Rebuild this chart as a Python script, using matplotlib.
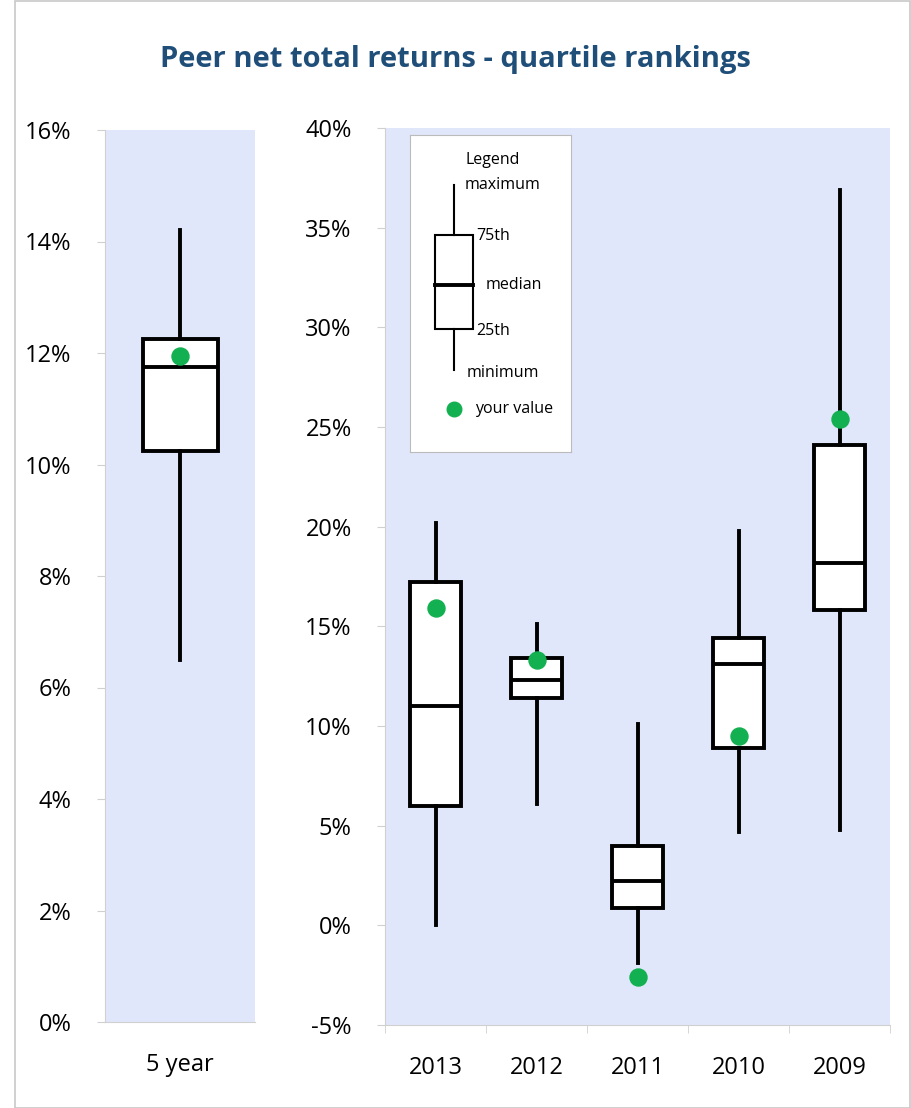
import matplotlib.pyplot as plt
from matplotlib.patches import Rectangle

plt.rcParams["font.family"] = ["Open Sans", "DejaVu Sans"]

# five-year panel
five_label = ["5 year"]
five_min, five_q1, five_med, five_q3, five_max = [6.5], [10.25], [11.75], [12.25], [14.2]
five_you = [11.95]

# annual panel
years = ["2013", "2012", "2011", "2010", "2009"]
yr_min = [0.0, 6.1, -1.9, 4.7, 4.8]
yr_q1 = [6.0, 11.4, 0.85, 8.9, 15.8]
yr_med = [11.0, 12.3, 2.2, 13.1, 18.2]
yr_q3 = [17.2, 13.4, 4.0, 14.4, 24.1]
yr_max = [20.2, 15.1, 10.1, 19.8, 36.9]
yr_you = [15.9, 13.3, -2.6, 9.5, 25.4]

W, H = 911, 1108
fig = plt.figure(figsize=(W / 100, H / 100), dpi=100)
fig.patches.append(Rectangle((15 / W, 0), 1 - 16 / W, 1 - 1 / H, transform=fig.transFigure,
                             fill=False, edgecolor="#c8c8c8", lw=1.2))

def px_axes(x0, y0, x1, y1):
    return fig.add_axes([x0 / W, 1 - y1 / H, (x1 - x0) / W, (y1 - y0) / H])

bg = "#e1e7fa"
box_style = dict(color="black", linewidth=2.8)

def draw(ax, labels, mn, q1, med, q3, mx, you):
    stats = [dict(whislo=a, q1=b, med=c, q3=d, whishi=e, label=l)
             for l, a, b, c, d, e in zip(labels, mn, q1, med, q3, mx)]
    pos = list(range(len(labels)))
    ax.bxp(stats, positions=pos, widths=0.5, showfliers=False, showcaps=False,
           patch_artist=True,
           boxprops=dict(facecolor="white", edgecolor="black", linewidth=2.8),
           medianprops=box_style, whiskerprops=box_style)
    ax.scatter(pos, you, s=150, color="#12b050", zorder=5)
    ax.set_xlim(-0.5, len(labels) - 0.5)
    ax.set_facecolor(bg)
    for s in ["top", "right"]:
        ax.spines[s].set_visible(False)
    for s in ["left", "bottom"]:
        ax.spines[s].set_color("#d0d0d0")
    ax.set_xticks(pos)
    ax.set_xticklabels(labels, fontsize=17)
    ax.tick_params(axis="x", length=0, pad=22)
    ax.tick_params(axis="y", labelsize=17, length=6, color="#d0d0d0", pad=18)
    ax.yaxis.set_major_formatter(lambda v, p: f"{v:.0f}%")

ax1 = px_axes(105, 130, 255, 1022)
draw(ax1, five_label, five_min, five_q1, five_med, five_q3, five_max, five_you)
ax1.set_ylim(0, 16)
ax1.set_yticks(range(0, 17, 2))

ax2 = px_axes(385, 128, 890, 1025)
draw(ax2, years, yr_min, yr_q1, yr_med, yr_q3, yr_max, yr_you)
ax2.set_ylim(-5, 40)
ax2.set_yticks(range(-5, 41, 5))
ax2.set_xticks([i + 0.5 for i in range(-1, 5)], minor=True)
ax2.tick_params(axis="x", which="minor", length=6, color="#d0d0d0")

fig.text(0.5, 1 - 60 / H, "Peer net total returns - quartile rankings", ha="center", va="center",
         fontsize=21, fontweight="bold", color="#1f4e79")

# legend panel
lg = px_axes(410, 135, 571, 452)
lg.set_xlim(410, 571)
lg.set_ylim(452, 135)
lg.set_xticks([])
lg.set_yticks([])
for s in lg.spines.values():
    s.set_color("#bbbbbb")
lg.plot([454, 454], [185, 235], color="black", lw=1.5)
lg.plot([454, 454], [329, 370], color="black", lw=1.5)
lg.add_patch(Rectangle((435, 235), 38, 94, facecolor="white", edgecolor="black", lw=1.5))
lg.plot([435, 473], [285, 285], color="black", lw=2.8)
lg.scatter([454], [409], s=110, color="#12b050")
for x, y, t in [(493, 160, "Legend"), (503, 185, "maximum"), (493, 236, "75th"),
                (514, 285, "median"), (493, 331, "25th"), (503, 373, "minimum"),
                (514, 409, "your value")]:
    lg.text(x, y, t, ha="center", va="center", fontsize=11.5)

fig.savefig("out.png", dpi=100)
